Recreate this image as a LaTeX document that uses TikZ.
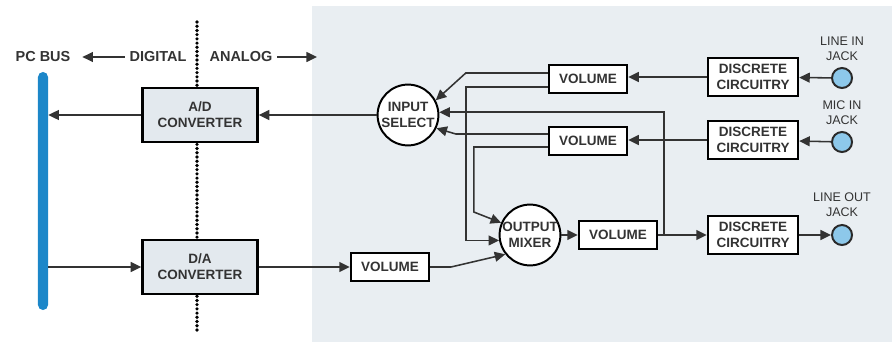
\documentclass[tikz,border=0pt]{standalone}
\usepackage{fontspec}
\setmainfont{Liberation Sans}
\usetikzlibrary{calc}
\usetikzlibrary{arrows.meta}
\definecolor{bgshade}{HTML}{E9EEF2}
\definecolor{boxfill}{HTML}{E3E9EE}
\definecolor{busblue}{HTML}{1C87C9}
\definecolor{jackblue}{HTML}{8DC8EA}
\definecolor{ink}{HTML}{333333}

\begin{document}
\begin{tikzpicture}[x=0.025cm,y=-0.025cm,
  hdr/.style={font=\fontsize{10.3}{12}\selectfont\bfseries, text=ink},
  txt/.style={font=\fontsize{9.6}{11.2}\selectfont\bfseries, text=ink, align=center, inner sep=0pt},
  lbl/.style={font=\fontsize{8.9}{10.6}\selectfont, text=ink, align=center},
  blk/.style={txt, draw=black, line width=1.7pt, fill=white},
  conv/.style={blk, fill=boxfill, minimum width=2.875cm, minimum height=1.35cm},
  vol/.style={blk, minimum width=1.95cm, minimum height=0.7cm},
  disc/.style={blk, minimum width=2.25cm, minimum height=0.95cm},
  mix/.style={blk, circle, line width=1.4pt, minimum size=1.52cm},
  jack/.style={circle, draw=ink!80!black, line width=1.4pt, fill=jackblue, minimum size=0.5cm, inner sep=0pt},
  bus/.style={fill=busblue, rounded corners=0.125cm, minimum width=0.25cm, minimum height=5.95cm, inner sep=0pt},
  wire/.style={draw=ink, line width=1.1pt},
  arr/.style={wire, -{Triangle[length=7.5pt,width=7pt]}}]
\useasboundingbox (0,0) rectangle (894,342);
\fill[bgshade] (312,6) rectangle (892,342);

% digital / analog split
\coordinate (dtop) at (197,22);
\coordinate (dbot) at (197,333);
\draw[line width=2.6pt, line cap=round, dash pattern=on 0pt off 3pt] (dtop) -- (dbot);
\node[hdr] (pcbus) at (43,57) {PC BUS};
\node[hdr] (digital) at (158,57) {DIGITAL};
\node[hdr] (analog) at (241,57) {ANALOG};
\coordinate (aend) at (317,57);
\draw[arr, shorten >=5pt] (digital) -- (pcbus);
\draw[arr] (analog) -- (aend);

\node[bus] (bus) at (43,191) {};
\node[conv] (adc) at (200,115) {A/D\\CONVERTER};
\node[conv] (dac) at (200,267) {D/A\\CONVERTER};

\node[mix] (insel) at (408,115) {INPUT\\SELECT};
\node[mix] (outmix) at (530,235) {OUTPUT\\MIXER};
\node[vol] (vol1) at (588,79) {VOLUME};
\node[vol] (vol2) at (588,141) {VOLUME};
\node[vol] (vol3) at (618,235) {VOLUME};
\node[vol] (vol4) at (390,267) {VOLUME};
\node[disc] (disc1) at (753,77) {DISCRETE\\CIRCUITRY};
\node[disc] (disc2) at (753,140) {DISCRETE\\CIRCUITRY};
\node[disc] (disc3) at (753,235) {DISCRETE\\CIRCUITRY};
\node[jack] (jack1) at (842,78) {};
\node[jack] (jack2) at (842,142) {};
\node[jack] (jack3) at (842,235) {};
\node[lbl] (linein) at (842,49) {LINE IN\\JACK};
\node[lbl] (micin) at (842,113) {MIC IN\\JACK};
\node[lbl] (lineout) at (842,205) {LINE OUT\\JACK};

\draw[arr] (adc) -- (adc -| bus.east);
\draw[arr] (dac -| bus.east) -- (dac);
\draw[arr] (insel) -- (adc);
\draw[arr] (dac) -- (vol4);

\draw[arr] (jack1) -- (disc1);
\draw[arr] (jack2) -- (disc2);
\draw[arr] (disc1) -- (vol1.east |- disc1);
\draw[arr] (disc2) -- (vol2.east |- disc2);

\draw[arr] ($(vol1.west)+(0,-6)$) -- ++(-82,0) -- (insel.28);
\draw[arr] ($(vol1.west)+(0,8)$) -- ++(-82,0) |- (outmix.190);
\draw[arr] ($(vol2.west)+(0,-7)$) -- ++(-92,0) -- (insel.-25);
\draw[arr] ($(vol2.west)+(0,6)$) -- ++(-74,0) -- ++(0,65) -- (outmix.157);
\draw[arr] (vol4) -- ++(61,0) -- (outmix.218);

\draw[arr] (outmix) -- (vol3);
\draw[arr] (vol3) -- (disc3);
\draw[arr] (disc3) -- (jack3);
\draw[arr] ($(vol3.east)+(6,0)$) |- (insel.5);

\end{tikzpicture}
\end{document}
